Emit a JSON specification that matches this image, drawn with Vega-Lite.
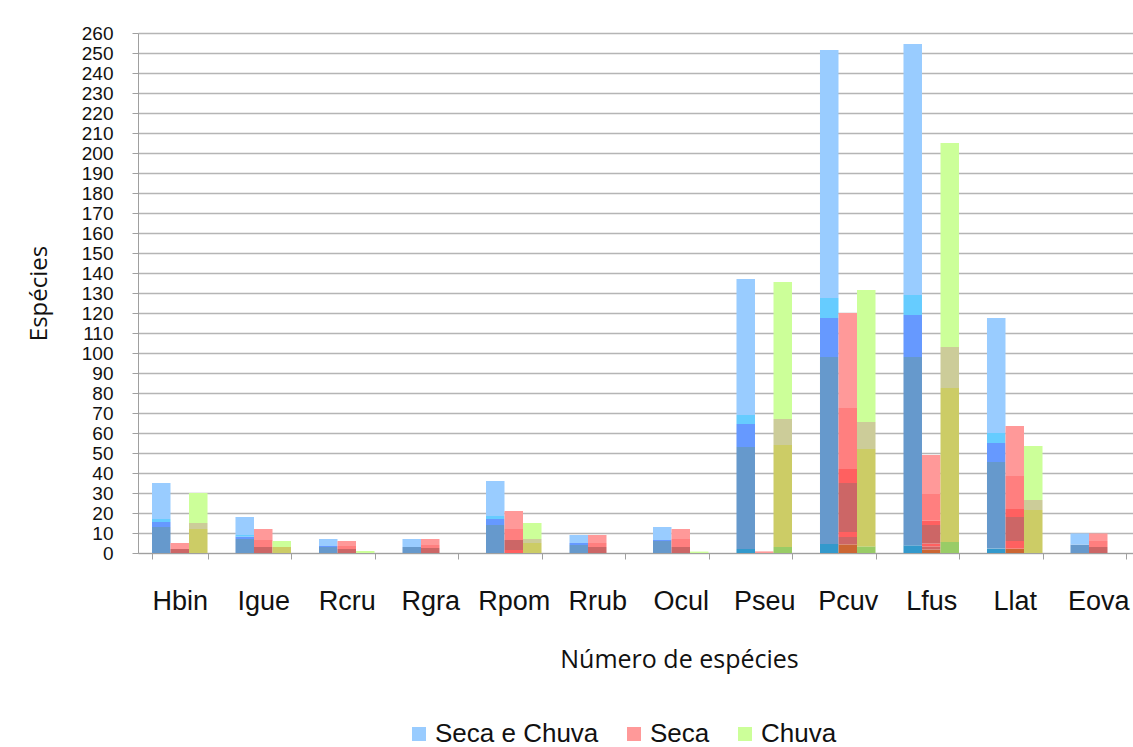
{
  "$schema": "https://vega.github.io/schema/vega-lite/v6.json",
  "width": 995,
  "height": 520,
  "autosize": "none",
  "padding": {"left": 138, "top": 33, "right": 0, "bottom": 194},
  "background": "white",
  "data": {
    "values": [
      {"c": "Hbin", "s": "Seca e Chuva", "k": "b1", "lo": 0, "hi": 13},
      {"c": "Hbin", "s": "Seca e Chuva", "k": "b2", "lo": 13, "hi": 15.5},
      {"c": "Hbin", "s": "Seca e Chuva", "k": "b3", "lo": 15.5, "hi": 17},
      {"c": "Hbin", "s": "Seca e Chuva", "k": "b4", "lo": 17, "hi": 35},
      {"c": "Hbin", "s": "Seca", "k": "r1", "lo": 0, "hi": 2},
      {"c": "Hbin", "s": "Seca", "k": "r4", "lo": 2, "hi": 5},
      {"c": "Hbin", "s": "Chuva", "k": "g1", "lo": 0, "hi": 12},
      {"c": "Hbin", "s": "Chuva", "k": "g2", "lo": 12, "hi": 15},
      {"c": "Hbin", "s": "Chuva", "k": "g3", "lo": 15, "hi": 30},

      {"c": "Igue", "s": "Seca e Chuva", "k": "b1", "lo": 0, "hi": 7},
      {"c": "Igue", "s": "Seca e Chuva", "k": "b2", "lo": 7, "hi": 8.2},
      {"c": "Igue", "s": "Seca e Chuva", "k": "b3", "lo": 8.2, "hi": 9},
      {"c": "Igue", "s": "Seca e Chuva", "k": "b4", "lo": 9, "hi": 18},
      {"c": "Igue", "s": "Seca", "k": "r1", "lo": 0, "hi": 3},
      {"c": "Igue", "s": "Seca", "k": "r3", "lo": 3, "hi": 6.5},
      {"c": "Igue", "s": "Seca", "k": "r4", "lo": 6.5, "hi": 12},
      {"c": "Igue", "s": "Chuva", "k": "g1", "lo": 0, "hi": 3},
      {"c": "Igue", "s": "Chuva", "k": "g3", "lo": 3, "hi": 6},

      {"c": "Rcru", "s": "Seca e Chuva", "k": "b1", "lo": 0, "hi": 3},
      {"c": "Rcru", "s": "Seca e Chuva", "k": "b2", "lo": 3, "hi": 3.5},
      {"c": "Rcru", "s": "Seca e Chuva", "k": "b4", "lo": 3.5, "hi": 7},
      {"c": "Rcru", "s": "Seca", "k": "r1", "lo": 0, "hi": 2},
      {"c": "Rcru", "s": "Seca", "k": "r3", "lo": 2, "hi": 3.5},
      {"c": "Rcru", "s": "Seca", "k": "r4", "lo": 3.5, "hi": 6},
      {"c": "Rcru", "s": "Chuva", "k": "g3", "lo": 0, "hi": 1},

      {"c": "Rgra", "s": "Seca e Chuva", "k": "b1", "lo": 0, "hi": 3},
      {"c": "Rgra", "s": "Seca e Chuva", "k": "b4", "lo": 3, "hi": 7},
      {"c": "Rgra", "s": "Seca", "k": "r1", "lo": 0, "hi": 2.5},
      {"c": "Rgra", "s": "Seca", "k": "r3", "lo": 2.5, "hi": 4},
      {"c": "Rgra", "s": "Seca", "k": "r4", "lo": 4, "hi": 7},

      {"c": "Rpom", "s": "Seca e Chuva", "k": "b1", "lo": 0, "hi": 14},
      {"c": "Rpom", "s": "Seca e Chuva", "k": "b2", "lo": 14, "hi": 17},
      {"c": "Rpom", "s": "Seca e Chuva", "k": "b3", "lo": 17, "hi": 18.5},
      {"c": "Rpom", "s": "Seca e Chuva", "k": "b4", "lo": 18.5, "hi": 36},
      {"c": "Rpom", "s": "Seca", "k": "r2", "lo": 0, "hi": 1.5},
      {"c": "Rpom", "s": "Seca", "k": "r1", "lo": 1.5, "hi": 6.5},
      {"c": "Rpom", "s": "Seca", "k": "r3", "lo": 6.5, "hi": 12},
      {"c": "Rpom", "s": "Seca", "k": "r4", "lo": 12, "hi": 21},
      {"c": "Rpom", "s": "Chuva", "k": "g1", "lo": 0, "hi": 5},
      {"c": "Rpom", "s": "Chuva", "k": "g2", "lo": 5, "hi": 7},
      {"c": "Rpom", "s": "Chuva", "k": "g3", "lo": 7, "hi": 15},

      {"c": "Rrub", "s": "Seca e Chuva", "k": "b1", "lo": 0, "hi": 4},
      {"c": "Rrub", "s": "Seca e Chuva", "k": "b2", "lo": 4, "hi": 5},
      {"c": "Rrub", "s": "Seca e Chuva", "k": "b4", "lo": 5, "hi": 9},
      {"c": "Rrub", "s": "Seca", "k": "r1", "lo": 0, "hi": 3},
      {"c": "Rrub", "s": "Seca", "k": "r3", "lo": 3, "hi": 5},
      {"c": "Rrub", "s": "Seca", "k": "r4", "lo": 5, "hi": 9},

      {"c": "Ocul", "s": "Seca e Chuva", "k": "b1", "lo": 0, "hi": 6},
      {"c": "Ocul", "s": "Seca e Chuva", "k": "b2", "lo": 6, "hi": 6.5},
      {"c": "Ocul", "s": "Seca e Chuva", "k": "b4", "lo": 6.5, "hi": 13},
      {"c": "Ocul", "s": "Seca", "k": "r1", "lo": 0, "hi": 3},
      {"c": "Ocul", "s": "Seca", "k": "r3", "lo": 3, "hi": 7},
      {"c": "Ocul", "s": "Seca", "k": "r4", "lo": 7, "hi": 12},
      {"c": "Ocul", "s": "Chuva", "k": "g3", "lo": 0, "hi": 0.7},

      {"c": "Pseu", "s": "Seca e Chuva", "k": "b0", "lo": 0, "hi": 2},
      {"c": "Pseu", "s": "Seca e Chuva", "k": "b1", "lo": 2, "hi": 53},
      {"c": "Pseu", "s": "Seca e Chuva", "k": "b2", "lo": 53, "hi": 64.5},
      {"c": "Pseu", "s": "Seca e Chuva", "k": "b3", "lo": 64.5, "hi": 69},
      {"c": "Pseu", "s": "Seca e Chuva", "k": "b4", "lo": 69, "hi": 137},
      {"c": "Pseu", "s": "Seca", "k": "r4", "lo": 0, "hi": 0.8},
      {"c": "Pseu", "s": "Chuva", "k": "g0", "lo": 0, "hi": 3},
      {"c": "Pseu", "s": "Chuva", "k": "g1", "lo": 3, "hi": 54},
      {"c": "Pseu", "s": "Chuva", "k": "g2", "lo": 54, "hi": 67},
      {"c": "Pseu", "s": "Chuva", "k": "g3", "lo": 67, "hi": 135.5},

      {"c": "Pcuv", "s": "Seca e Chuva", "k": "b0", "lo": 0, "hi": 4.5},
      {"c": "Pcuv", "s": "Seca e Chuva", "k": "b1", "lo": 4.5, "hi": 98},
      {"c": "Pcuv", "s": "Seca e Chuva", "k": "b2", "lo": 98, "hi": 117.5},
      {"c": "Pcuv", "s": "Seca e Chuva", "k": "b3", "lo": 117.5, "hi": 127.5},
      {"c": "Pcuv", "s": "Seca e Chuva", "k": "b4", "lo": 127.5, "hi": 251.5},
      {"c": "Pcuv", "s": "Seca", "k": "r0", "lo": 0, "hi": 4.3},
      {"c": "Pcuv", "s": "Seca", "k": "r1", "lo": 4.3, "hi": 8},
      {"c": "Pcuv", "s": "Seca", "k": "r2", "lo": 8, "hi": 10.5},
      {"c": "Pcuv", "s": "Seca", "k": "r1", "lo": 10.5, "hi": 35},
      {"c": "Pcuv", "s": "Seca", "k": "r2", "lo": 35, "hi": 42},
      {"c": "Pcuv", "s": "Seca", "k": "r3", "lo": 42, "hi": 72.5},
      {"c": "Pcuv", "s": "Seca", "k": "r4", "lo": 72.5, "hi": 120},
      {"c": "Pcuv", "s": "Chuva", "k": "g0", "lo": 0, "hi": 3.3},
      {"c": "Pcuv", "s": "Chuva", "k": "g1", "lo": 3.3, "hi": 52},
      {"c": "Pcuv", "s": "Chuva", "k": "g2", "lo": 52, "hi": 65.5},
      {"c": "Pcuv", "s": "Chuva", "k": "g3", "lo": 65.5, "hi": 131.5},

      {"c": "Lfus", "s": "Seca e Chuva", "k": "b0", "lo": 0, "hi": 3.8},
      {"c": "Lfus", "s": "Seca e Chuva", "k": "b1", "lo": 3.8, "hi": 98},
      {"c": "Lfus", "s": "Seca e Chuva", "k": "b2", "lo": 98, "hi": 119},
      {"c": "Lfus", "s": "Seca e Chuva", "k": "b3", "lo": 119, "hi": 129},
      {"c": "Lfus", "s": "Seca e Chuva", "k": "b4", "lo": 129, "hi": 254.5},
      {"c": "Lfus", "s": "Seca", "k": "r0", "lo": 0, "hi": 1.7},
      {"c": "Lfus", "s": "Seca", "k": "r1", "lo": 1.7, "hi": 3.3},
      {"c": "Lfus", "s": "Seca", "k": "r2", "lo": 3.3, "hi": 4.7},
      {"c": "Lfus", "s": "Seca", "k": "r1", "lo": 4.7, "hi": 14},
      {"c": "Lfus", "s": "Seca", "k": "r2", "lo": 14, "hi": 16.3},
      {"c": "Lfus", "s": "Seca", "k": "r3", "lo": 16.3, "hi": 29.5},
      {"c": "Lfus", "s": "Seca", "k": "r4", "lo": 29.5, "hi": 49},
      {"c": "Lfus", "s": "Chuva", "k": "g0", "lo": 0, "hi": 5.5},
      {"c": "Lfus", "s": "Chuva", "k": "g1", "lo": 5.5, "hi": 82.5},
      {"c": "Lfus", "s": "Chuva", "k": "g2", "lo": 82.5, "hi": 103},
      {"c": "Lfus", "s": "Chuva", "k": "g3", "lo": 103, "hi": 205},

      {"c": "Llat", "s": "Seca e Chuva", "k": "b0", "lo": 0, "hi": 2.2},
      {"c": "Llat", "s": "Seca e Chuva", "k": "b1", "lo": 2.2, "hi": 45.5},
      {"c": "Llat", "s": "Seca e Chuva", "k": "b2", "lo": 45.5, "hi": 55},
      {"c": "Llat", "s": "Seca e Chuva", "k": "b3", "lo": 55, "hi": 60},
      {"c": "Llat", "s": "Seca e Chuva", "k": "b4", "lo": 60, "hi": 117.5},
      {"c": "Llat", "s": "Seca", "k": "r0", "lo": 0, "hi": 2.2},
      {"c": "Llat", "s": "Seca", "k": "r2", "lo": 2.2, "hi": 6},
      {"c": "Llat", "s": "Seca", "k": "r1", "lo": 6, "hi": 18},
      {"c": "Llat", "s": "Seca", "k": "r2", "lo": 18, "hi": 22},
      {"c": "Llat", "s": "Seca", "k": "r3", "lo": 22, "hi": 38.5},
      {"c": "Llat", "s": "Seca", "k": "r4", "lo": 38.5, "hi": 63.5},
      {"c": "Llat", "s": "Chuva", "k": "g1", "lo": 0, "hi": 21.5},
      {"c": "Llat", "s": "Chuva", "k": "g2", "lo": 21.5, "hi": 26.5},
      {"c": "Llat", "s": "Chuva", "k": "g3", "lo": 26.5, "hi": 53.5},

      {"c": "Eova", "s": "Seca e Chuva", "k": "b1", "lo": 0, "hi": 4.2},
      {"c": "Eova", "s": "Seca e Chuva", "k": "b4", "lo": 4.2, "hi": 9.8},
      {"c": "Eova", "s": "Seca", "k": "r1", "lo": 0, "hi": 3},
      {"c": "Eova", "s": "Seca", "k": "r3", "lo": 3, "hi": 6},
      {"c": "Eova", "s": "Seca", "k": "r4", "lo": 6, "hi": 9.8}
    ]
  },
  "mark": {"type": "bar", "strokeWidth": 0},
  "encoding": {
    "x": {
      "field": "c",
      "type": "nominal",
      "sort": ["Hbin", "Igue", "Rcru", "Rgra", "Rpom", "Rrub", "Ocul", "Pseu", "Pcuv", "Lfus", "Llat", "Eova"],
      "scale": {"paddingInner": 0.335, "paddingOuter": 0.1675, "range": [0, 1002]},
      "axis": {
        "title": "Número de espécies",
        "labelAngle": 0,
        "labelFont": "Liberation Sans",
        "labelFontSize": 27,
        "labelColor": "#111111",
        "labelPadding": 29,
        "tickBand": "extent",
        "tickSize": 6,
        "tickColor": "#a0a0a0",
        "domainColor": "#a0a0a0",
        "titleFont": "Open Sans",
        "titleFontSize": 25,
        "titleFontWeight": "normal",
        "titleColor": "#111111",
        "titlePadding": 33,
        "titleX": 541,
        "grid": false
      }
    },
    "xOffset": {
      "field": "s",
      "sort": ["Seca e Chuva", "Seca", "Chuva"],
      "scale": {"paddingInner": 0, "paddingOuter": 0}
    },
    "y": {
      "field": "lo",
      "type": "quantitative",
      "scale": {"domain": [0, 260], "nice": false},
      "axis": {
        "title": "Espécies",
        "values": [0, 10, 20, 30, 40, 50, 60, 70, 80, 90, 100, 110, 120, 130, 140, 150, 160, 170, 180, 190, 200, 210, 220, 230, 240, 250, 260],
        "labelFont": "Liberation Sans",
        "labelFontSize": 19,
        "labelColor": "#111111",
        "labelPadding": 19,
        "labelOverlap": false,
        "labelBound": false,
        "tickSize": 6,
        "tickColor": "#a0a0a0",
        "domainColor": "#a0a0a0",
        "gridColor": "#b5b5b5",
        "gridWidth": 1.5,
        "titleFont": "Open Sans",
        "titleFontSize": 24,
        "titleFontWeight": "normal",
        "titleColor": "#111111",
        "titlePadding": 30
      }
    },
    "y2": {"field": "hi"},
    "color": {
      "field": "k",
      "type": "nominal",
      "scale": {
        "domain": ["b0", "b1", "b2", "b3", "b4", "r0", "r1", "r2", "r3", "r4", "g0", "g1", "g2", "g3"],
        "range": ["#3399cc", "#6699cc", "#6699ff", "#66ccff", "#99ccff", "#cc6633", "#cc6666", "#ff6060", "#ff7f7f", "#ff9999", "#99cc66", "#cccc66", "#cccc99", "#ccff99"]
      },
      "legend": {
        "title": null,
        "orient": "none",
        "legendX": 268,
        "legendY": 688,
        "direction": "horizontal",
        "values": ["b4", "r4", "g3"],
        "labelExpr": "datum.value == 'b4' ? 'Seca e Chuva' : datum.value == 'r4' ? 'Seca' : 'Chuva'",
        "labelFont": "Liberation Sans",
        "labelFontSize": 26,
        "labelLimit": 400,
        "labelColor": "#111111",
        "labelOffset": 3,
        "symbolType": "square",
        "symbolSize": 196,
        "symbolStrokeWidth": 0,
        "symbolOpacity": 1,
        "columnPadding": 22,
        "padding": 0
      }
    }
  },
  "config": {"view": {"stroke": null}}
}
